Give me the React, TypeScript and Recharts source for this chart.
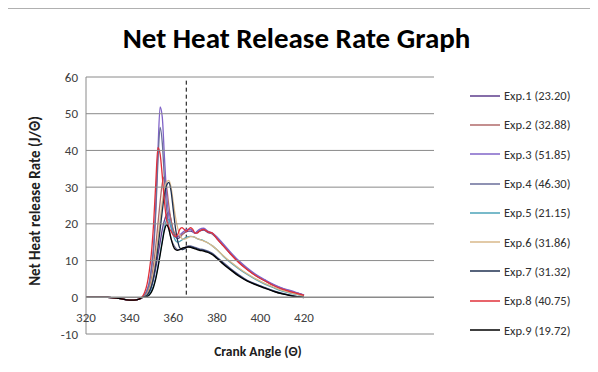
import { Legend, Line, LineChart, ReferenceLine, XAxis, YAxis } from 'recharts';

const angles = [320, 325, 330, 335, 340, 342, 344, 346, 347, 348, 349, 350, 351, 352, 353, 354, 355, 356, 357, 358, 359, 360, 361, 362, 363, 364, 365, 366, 367, 368, 369, 370, 371, 372, 374, 376, 378, 380, 383, 386, 390, 394, 398, 402, 406, 410, 414, 417, 420];

const base = [0, 0, 0, -0.3, -0.8, -0.8, -0.6];

const exp1 = [...base, 0, 0, 0.5, 1.3, 2.8, 5, 8, 11.5, 15, 18.5, 21, 22.5, 23.2, 21, 18, 16.5, 16, 16.3, 17, 17.5, 17.8, 18, 18, 17.8, 17.5, 17.6, 18, 18.3, 17.6, 17.2, 16, 14, 12, 9.6, 7.6, 5.9, 4.5, 3.3, 2.3, 1.6, 1.1, 0.6];
const exp2 = [...base, 0, 0.3, 1, 2.5, 5, 9, 14, 20, 26, 31, 32.88, 30, 25, 21, 18.5, 17, 16.5, 16.5, 17, 17.5, 18, 18.5, 18.5, 18, 17.5, 17.8, 18.2, 18.5, 17.8, 17.3, 16.2, 14.2, 12.2, 9.8, 7.8, 6, 4.6, 3.4, 2.4, 1.6, 1.1, 0.6];
const exp3 = [...base, 0, 0.8, 2, 4, 8, 14, 25, 40, 51.85, 49, 38, 28, 22, 19, 17, 16.5, 16.5, 17, 17.5, 18, 18.5, 18.5, 18.5, 18, 17.5, 18, 18.5, 18.8, 18, 17.5, 16.5, 14.5, 12.5, 10, 8, 6.2, 4.8, 3.5, 2.5, 1.8, 1.2, 0.6];
const exp4 = [...base, 0, 0.7, 1.8, 3.8, 7.5, 13, 23, 37, 46.3, 42, 32, 24, 19, 16, 14.5, 13.5, 13, 13, 13.2, 13.5, 13.8, 14, 14, 13.8, 13.6, 13.4, 13.2, 13, 12.6, 12, 11, 9.5, 8, 6.2, 4.6, 3.6, 2.7, 1.8, 1.1, 0.5, 0.2, 0];
const exp5 = [...base, 0, 0, 0.3, 0.8, 1.8, 3.2, 5.5, 8.5, 12, 15.5, 19, 21, 21.15, 19.5, 17, 15.5, 15, 15.2, 15.6, 16, 16.3, 16.5, 16.6, 16.5, 16.3, 16, 15.8, 15.4, 14.8, 14, 13, 11.2, 9.6, 7.8, 6.2, 4.8, 3.6, 2.6, 1.7, 1.1, 0.7, 0.3];
const exp6 = [...base, 0, 0.3, 0.8, 2, 4, 7, 11, 16, 21, 26, 29.5, 31.5, 31.86, 30, 26, 22, 19, 17, 16, 15.8, 16, 16.3, 16.5, 16.5, 16.3, 16, 15.8, 15.3, 14.8, 14, 13, 11.3, 9.8, 8, 6.4, 5, 3.8, 2.8, 1.9, 1.2, 0.8, 0.4];
const exp7 = [...base, 0, 0.2, 0.6, 1.5, 3, 5.5, 9, 13.5, 18.5, 23.5, 28, 30.5, 31.32, 29, 24, 19, 15.5, 13.5, 13, 13.2, 13.5, 13.8, 13.8, 13.6, 13.4, 13.2, 13, 12.8, 12.4, 11.8, 10.8, 9.2, 7.8, 6, 4.5, 3.5, 2.6, 1.7, 1, 0.5, 0.2, 0];
const exp8 = [...base, 0.3, 1.5, 3.5, 7, 12, 20, 31, 40.75, 39, 33, 26, 21, 19, 18, 17, 16.5, 17, 18.5, 19, 18.5, 18, 18.5, 19, 18.5, 17.5, 17.5, 18, 18.5, 17.8, 17.5, 16, 14, 12, 9.5, 7.5, 5.8, 4.5, 3.2, 2.2, 1.5, 1, 0.5];
const exp9 = [...base, 0, 0, 0.2, 0.6, 1.4, 2.8, 5, 8, 11.5, 15, 18.3, 19.72, 18.5, 16, 14, 13, 12.8, 13, 13.3, 13.5, 13.6, 13.7, 13.6, 13.4, 13.2, 13, 12.8, 12.6, 12.2, 11.6, 10.6, 9, 7.6, 5.8, 4.4, 3.4, 2.5, 1.6, 0.9, 0.4, 0.1, -0.1];

const seriesNames = ['Exp.1 (23.20)', 'Exp.2 (32.88)', 'Exp.3 (51.85)', 'Exp.4 (46.30)', 'Exp.5 (21.15)', 'Exp.6 (31.86)', 'Exp.7 (31.32)', 'Exp.8 (40.75)', 'Exp.9 (19.72)'];
const seriesValues = [exp1, exp2, exp3, exp4, exp5, exp6, exp7, exp8, exp9];
const colors = ['#5e3c8c', '#b06a6a', '#8064c8', '#6a6e9a', '#4ba3b8', '#d8b88a', '#1f3050', '#e0303a', '#000000'];

const xTicks = [320, 340, 360, 380, 400, 420];
const yTicks = [-10, 0, 10, 20, 30, 40, 50, 60];
const dashAngle = 366;
const dashTop = 59;

const data = angles.map((a, i) => {
  const row: Record<string, number> = { angle: a };
  seriesValues.forEach((s, k) => (row['e' + k] = s[i]));
  return row;
});

const font = 'Calibri, "Open Sans", sans-serif';
const plotLeft = 78;
const plotRight = 426;

const XTick = ({ x, y, payload }: any) => (
  <text x={x} y={y - 20} textAnchor="middle" fontSize={13} fill="#404040" fontFamily={font}>
    {payload.value}
  </text>
);

// y tick label plus its gridline across the plot
const YTick = ({ x, y, payload }: any) => (
  <g>
    <line x1={plotLeft} x2={plotRight} y1={y} y2={y} stroke="#8a8a8a" strokeWidth={payload.value === 0 ? 1.5 : 1} />
    <text x={x} y={y} dy={4.5} textAnchor="end" fontSize={13} fill="#404040" fontFamily={font}>
      {payload.value}
    </text>
  </g>
);

const XLabel = () => (
  <text x={250} y={347} textAnchor="middle" fontFamily={font} fontSize={13.5} fontWeight={700} fill="#202020">
    Crank Angle (Θ)
  </text>
);

const YLabel = () => (
  <text x={0} y={0} transform="translate(32 192) rotate(-90)" textAnchor="middle" fontFamily={font} fontSize={15} fontWeight={700} fill="#202020">
    Net Heat release Rate (J/Θ)
  </text>
);

const LegendBox = () => (
  <div style={{ fontFamily: font, fontSize: 12.5, color: '#303030' }}>
    {seriesNames.map((n, k) => (
      <div key={n} style={{ display: 'flex', alignItems: 'center', height: 29.3 }}>
        <svg width={32} height={4}>
          <line x1={0} y1={2} x2={30} y2={2} stroke={colors[k]} strokeWidth={1.5} />
        </svg>
        <span style={{ marginLeft: 2 }}>{n}</span>
      </div>
    ))}
  </div>
);

export default function App() {
  return (
    <div style={{ position: 'relative', width: 589, height: 363, border: '1px solid #b0b0b0', background: '#fff', marginLeft: -1 }}>
      <div style={{ position: 'absolute', top: 11, left: -6, width: 589, textAlign: 'center', fontFamily: font, fontWeight: 700, fontSize: 29, color: '#000' }}>
        Net Heat Release Rate Graph
      </div>
      <LineChart width={589} height={363} data={data} margin={{ top: 68, right: 163, bottom: 28, left: 0 }}>
        <XAxis dataKey="angle" type="number" domain={[320, 420]} ticks={xTicks} axisLine={false} tickLine={false} tick={<XTick />} height={10} label={<XLabel />} />
        <YAxis domain={[-10, 60]} ticks={yTicks} width={78} axisLine={{ stroke: '#8a8a8a' }} tickLine={false} interval={0} tick={<YTick />} label={<YLabel />} />
        <ReferenceLine segment={[{ x: dashAngle, y: dashTop }, { x: dashAngle, y: 0 }]} stroke="#000" strokeDasharray="4 3" />
        {seriesNames.map((n, k) => (
          <Line key={n} dataKey={'e' + k} name={n} type="monotone" stroke={colors[k]} strokeWidth={1.3} dot={false} isAnimationActive={false} />
        ))}
        <Legend content={<LegendBox />} layout="vertical" verticalAlign="top" align="right" wrapperStyle={{ top: 72, left: 462, width: 130 }} />
      </LineChart>
    </div>
  );
}
